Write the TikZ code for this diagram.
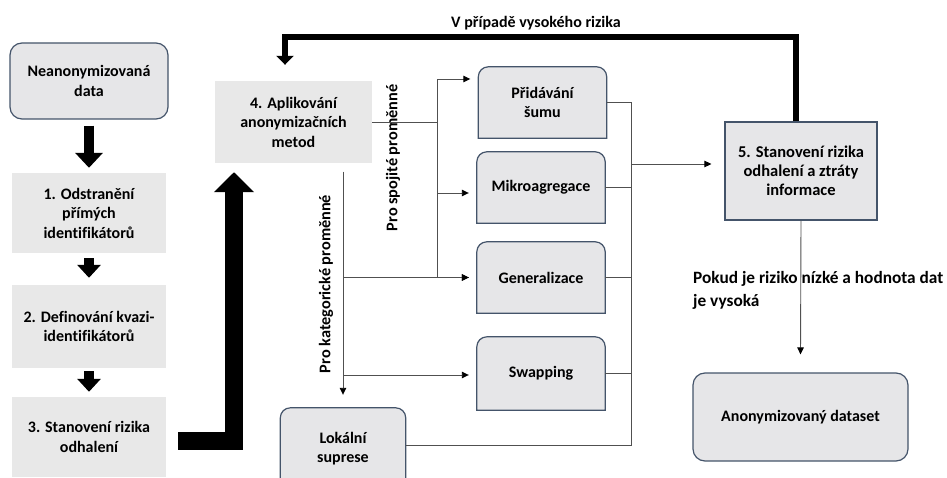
\documentclass[tikz,border=0pt]{standalone}
\usepackage{fontspec}
\setmainfont{Carlito}[Ligatures=CommonOff]
\usepackage{tikz}
\usetikzlibrary{arrows.meta, positioning, backgrounds, calc}

\definecolor{boxfill}{HTML}{E6E6E8}
\definecolor{stepfill}{HTML}{E8E8E8}
\definecolor{frame}{HTML}{44546A}
\definecolor{wire}{HTML}{505050}

\begin{document}
\begin{tikzpicture}[
    x=1pt, y=-1pt,
    every node/.style={font=\fontsize{16}{19.5}\selectfont\bfseries, align=center, inner sep=0pt},
    labeltext/.style={font=\fontsize{#1}{23}\selectfont\bfseries},
    stepbox/.style={rectangle, fill=stepfill, minimum width=154pt, minimum height=#1},
    roundbox/.style={rectangle, draw=frame, line width=1.2pt, rounded corners=12pt, fill=boxfill},
    method/.style={rectangle, minimum width=128pt, minimum height=#1},
    methodframe/.style={draw=frame, line width=1.2pt, fill=boxfill},
    line/.style={draw=wire, line width=0.9pt},
    arrow/.style={line, -{Triangle[length=7pt,width=6.5pt,color=black]}},
    bigarrow/.style={line width=10pt, -{Triangle[length=15pt,width=27pt]}}
]
    \useasboundingbox (0,0) rectangle (947,478);
    \clip (0,0) rectangle (947,478);

    % left column
    \node[roundbox, minimum width=158pt, minimum height=76pt] (raw) at (89,81) {Neanonymizovaná\\data};
    \node[stepbox=80pt] (strip) at (89,213) {1. Odstranění\\přímých\\identifikátorů};
    \node[stepbox=83pt] (quasi) at (89,326.5) {2. Definování kvazi-\\identifikátorů};
    \node[stepbox=80pt] (risk) at (89,437) {3. Stanovení rizika\\odhalení};

    \draw[bigarrow, shorten <=6pt, shorten >=5pt] (raw) -- (strip);
    \draw[bigarrow, -{Triangle[length=13pt,width=23pt]}, shorten <=5pt, shorten >=7pt] (strip) -- (quasi);
    \draw[bigarrow, -{Triangle[length=13pt,width=23pt]}, shorten <=3pt, shorten >=5pt] (quasi) -- (risk);

    % methods
    \node[rectangle, fill=stepfill, minimum width=157pt, minimum height=82pt] (apply) at (293.5,122) {4. Aplikování\\anonymizačních\\metod};
    \node[method=71pt] (noise) at (542.5,102.5) {Přidávání\\šumu};
    \node[method=71pt] (micro) at (541,187.5) {Mikroagregace};
    \node[method=71pt] (general) at (541,277.5) {Generalizace};
    \node[method=73pt] (swap) at (541,373.5) {Swapping};
    \node[method=81pt, minimum width=125pt] (suppr) at (343,448.5) {Lokální\\suprese};

    \begin{scope}[on background layer]
        \foreach \m in {noise,micro,general,swap,suppr}
            \draw[methodframe] (\m.south west) -- ([yshift=-10pt]\m.north west)
                arc[start angle=180, end angle=90, radius=10pt] -- ([xshift=-10pt]\m.north east)
                arc[start angle=90, end angle=0, radius=10pt] -- (\m.south east) -- cycle;
    \end{scope}

    \node[rectangle, draw=frame, line width=1.2pt, fill=boxfill, minimum width=152pt, minimum height=98pt,
          font=\fontsize{16.5}{19}\selectfont\bfseries] (assess) at (801,171) {5. Stanovení rizika\\odhalení a ztráty\\informace};
    \node[roundbox, minimum width=215pt, minimum height=88pt] (result) at (800.5,417) {Anonymizovaný dataset};

    % labels
    \node[labeltext=16] (highrisk) at (536,23) {V případě vysokého rizika};
    \node[labeltext=17.3, anchor=west, align=left] (lowrisk) at (693,290) {Pokud je riziko nízké a hodnota dat\\je vysoká};
    \node[labeltext=16.3, rotate=90] (contlabel) at (393,158) {Pro spojité proměnné};
    \node[labeltext=16.3, rotate=90] (catlabel) at (326,284) {Pro kategorické proměnné};

    % branches
    \coordinate (contc) at (437,122);
    \coordinate (catc) at (343,172);
    \coordinate (joinc) at (631,164);
    \draw[line] (apply.east) -- (contc);
    \draw[arrow] (contc) |- ([xshift=-8pt,yshift=23.5pt]noise.west);
    \draw[arrow] (contc) |- ([xshift=-8pt,yshift=-5.5pt]micro.west);
    \draw[arrow] (contc) |- ([xshift=-8pt]general.west);
    \draw[arrow] (catc) -- ([yshift=13pt]suppr.north);
    \draw[arrow] (catc) |- ([xshift=-8pt]general.west);
    \draw[arrow] (catc) |- ([xshift=-8pt,yshift=-1.5pt]swap.west);

    \draw[line] (noise.east) -| (joinc);
    \draw[line] (micro.east) -| (joinc);
    \draw[line] (general.east) -| (joinc);
    \draw[line] (swap.east) -| (joinc);
    \draw[line] ([yshift=3.5pt]suppr.east) -| (joinc);
    \draw[arrow] (joinc) -- ([xshift=-13pt,yshift=7pt]assess.west);
    \draw[arrow] (assess.south) -- ([yshift=18pt]result.north);

    % feedback arrows
    \coordinate (fbturn) at (285,37);
    \draw[line width=6pt, -{Triangle[length=9pt,width=17pt]}] ([xshift=-5pt]assess.north) |- (fbturn) -- ([xshift=-8.5pt,yshift=16pt]apply.north);
    \draw[line width=18pt, -{Triangle[length=20pt,width=39pt]}] ([xshift=12pt,yshift=-4pt]risk.east) -| ([xshift=-59.5pt,yshift=-9pt]apply.south);
\end{tikzpicture}
\end{document}
